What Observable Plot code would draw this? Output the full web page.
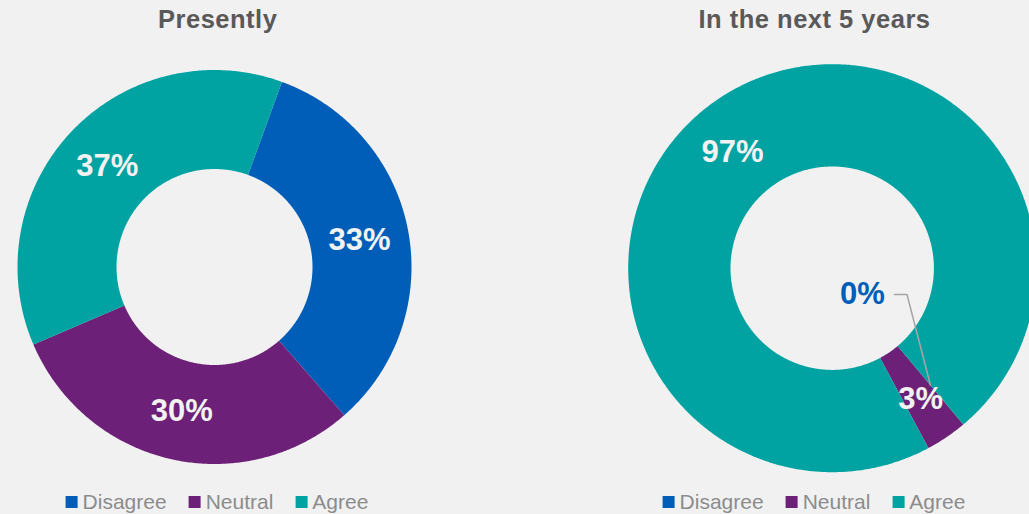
<!DOCTYPE html>
<html>
<head>
<meta charset="utf-8">
<script src="https://cdn.jsdelivr.net/npm/d3@7"></script>
<script src="https://cdn.jsdelivr.net/npm/@observablehq/plot@0.6"></script>
<style>
  html, body { margin: 0; padding: 0; background: #f1f1f1; overflow: hidden; }
  #wrap { position: relative; width: 1029px; height: 514px; background: #f1f1f1; font-family: "Liberation Sans", Arial, sans-serif; }
  .head { position: relative; height: 45px; }
  .title { position: absolute; top: 6.5px; transform: translateX(-50%); white-space: nowrap; font-weight: bold; font-size: 25.5px; line-height: 25.5px; letter-spacing: 0.5px; color: #595959; }
  .legend { position: absolute; top: 491px; transform: translateX(-50%); display: flex; align-items: center; white-space: nowrap; font-size: 21px; line-height: 21px; color: #8c8c8c; }
  .legend .item { display: flex; align-items: center; margin-right: 22px; }
  .legend .item:last-child { margin-right: 0; }
  .legend .sw { width: 12px; height: 12px; margin-right: 5px; }
  #chart svg { display: block; }
</style>
</head>
<body>
<div id="wrap">
  <div class="head" id="head"></div>
  <div id="chart"></div>
</div>
<script>
// ---- data ----
const categories = ["Disagree", "Neutral", "Agree"];
const panelTitles = ["Presently", "In the next 5 years"];
const presentlyValues = [33, 30, 37];
const nextFiveYearsValues = [0, 3.3, 96.7];
const categoryColors = ["#005EB8", "#6D2077", "#00A3A1"];

// ---- layout (page pixels) ----
const HEAD = 45, SVG_H = 440;
const layout = [
  {cx: 214, cy: 266.5, r0: 98, r1: 197, start: 20, titleX: 217.7, legendX: 217},
  {cx: 831.7, cy: 267.7, r0: 101.7, r1: 204, start: 140, titleX: 814.5, legendX: 814}
];
const labelAngleNudge = {"1|Agree": -6.6};          // degrees
const labelRadiusNudge = {"1|Neutral": 5};          // pixels
const zeroLabelOffset = {dx: 30.3, dy: 26.3};       // label moved into the hole
const panelValues = [presentlyValues, nextFiveYearsValues];

const rad = d => d * Math.PI / 180;
const pt = (L, r, a) => ({x: L.cx + r * Math.sin(rad(a)), y: L.cy - HEAD - r * Math.cos(rad(a))});

const polys = [], labels = [], leaders = [];
panelValues.forEach((vals, p) => {
  const L = layout[p];
  const total = d3.sum(vals);
  let acc = L.start;
  vals.forEach((v, i) => {
    const a0 = acc, a1 = acc + v / total * 360;
    acc = a1;
    const cat = categories[i];
    const key = p + "|" + cat;
    if (v > 0) {
      const n = Math.max(2, Math.ceil((a1 - a0) / 0.5));
      for (let k = 0; k <= n; k++) polys.push({key, cat, ...pt(L, L.r1, a0 + (a1 - a0) * k / n)});
      for (let k = n; k >= 0; k--) polys.push({key, cat, ...pt(L, L.r0, a0 + (a1 - a0) * k / n)});
    }
    const midR = (L.r0 + L.r1) / 2;
    const mid = (a0 + a1) / 2;
    const m = pt(L, midR, mid);
    const text = d3.format(".0f")(v) + "%";
    if (v > 0) {
      const lp = pt(L, midR + (labelRadiusNudge[key] || 0), mid + (labelAngleNudge[key] || 0));
      labels.push({x: lp.x, y: lp.y, text, color: "#f2f2f2"});
    } else {
      const lx = L.cx + zeroLabelOffset.dx, ly = L.cy - HEAD + zeroLabelOffset.dy;
      labels.push({x: lx, y: ly, text, color: categoryColors[i]});
      leaders.push({k: key, x: lx + 32, y: ly}, {k: key, x: lx + 44.5, y: ly}, {k: key, x: m.x, y: m.y});
    }
  });
});

// titles + legends
const head = document.getElementById("head");
const wrap = document.getElementById("wrap");
panelTitles.forEach((t, p) => {
  const d = document.createElement("div");
  d.className = "title";
  d.style.left = layout[p].titleX + "px";
  d.textContent = t;
  head.appendChild(d);
  const lg = document.createElement("div");
  lg.className = "legend";
  lg.style.left = layout[p].legendX + "px";
  categories.forEach((c, i) => {
    const it = document.createElement("div");
    it.className = "item";
    it.innerHTML = `<span class="sw" style="background:${categoryColors[i]}"></span><span>${c}</span>`;
    lg.appendChild(it);
  });
  wrap.appendChild(lg);
});

const chart = Plot.plot({
  width: 1029,
  height: SVG_H,
  margin: 0,
  x: {type: "identity", axis: null},
  y: {type: "identity", axis: null},
  color: {domain: categories, range: categoryColors},
  style: {background: "transparent", fontFamily: "Liberation Sans, Arial, sans-serif", overflow: "hidden"},
  marks: [
    Plot.line(polys, {x: "x", y: "y", z: "key", fill: "cat", stroke: "none", curve: "linear-closed"}),
    Plot.line(leaders, {x: "x", y: "y", z: "k", stroke: "#a6a6a6", strokeWidth: 1.5}),
    Plot.text(labels, {x: "x", y: "y", text: "text", fill: "color", fontSize: 31, fontWeight: "bold"})
  ]
});
document.getElementById("chart").appendChild(chart);
</script>
</body>
</html>
